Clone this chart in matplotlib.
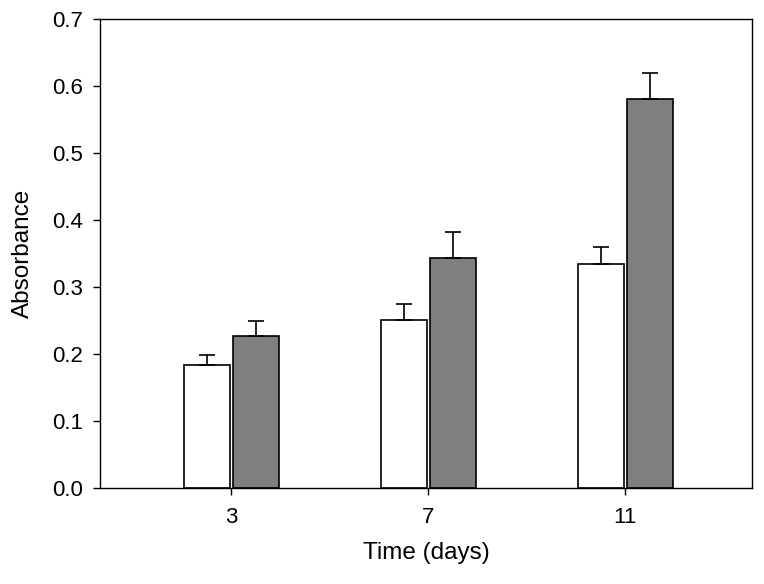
import matplotlib
matplotlib.use("Agg")
import matplotlib.pyplot as plt
import numpy as np

plt.rcParams['font.family'] = ['Liberation Sans', 'DejaVu Sans']

days = ["3", "7", "11"]
control = [0.183, 0.251, 0.335]
control_err = [0.015, 0.024, 0.025]
treated = [0.227, 0.344, 0.580]
treated_err = [0.022, 0.038, 0.040]
yticks = [0.0, 0.1, 0.2, 0.3, 0.4, 0.5, 0.6, 0.7]

fig = plt.figure(figsize=(7.64, 5.84), dpi=100)
ax = fig.add_axes([100/764, 96/584, 652/764, 469/584])

x = np.arange(len(days))
w = 0.233
ekw = dict(elinewidth=1.2, capthick=1.2, ecolor='black')
ax.bar(x - 0.122, control, w, color='white', edgecolor='black', linewidth=1.2,
       yerr=[np.zeros(len(control)), control_err], capsize=5.5, error_kw=ekw)
ax.bar(x + 0.127, treated, w, color='#7f7f7f', edgecolor='black', linewidth=1.2,
       yerr=[np.zeros(len(treated)), treated_err], capsize=5.5, error_kw=ekw)

ax.set_xlim(-0.665, 2.645)
ax.set_ylim(0, 0.7)
ax.set_xticks(x)
ax.set_xticklabels(days)
ax.set_yticks(yticks)
ax.set_yticklabels([f"{v:.1f}" for v in yticks])
ax.tick_params(direction='out', length=5, width=1, labelsize=16)
ax.tick_params(axis='x', pad=9)
ax.tick_params(axis='y', pad=7)
for s in ax.spines.values():
    s.set_linewidth(1)
ax.set_xlabel("Time (days)", fontsize=17.5, labelpad=10)
ax.set_ylabel("Absorbance", fontsize=17.5, labelpad=13)

fig.savefig("out.png", dpi=100)
